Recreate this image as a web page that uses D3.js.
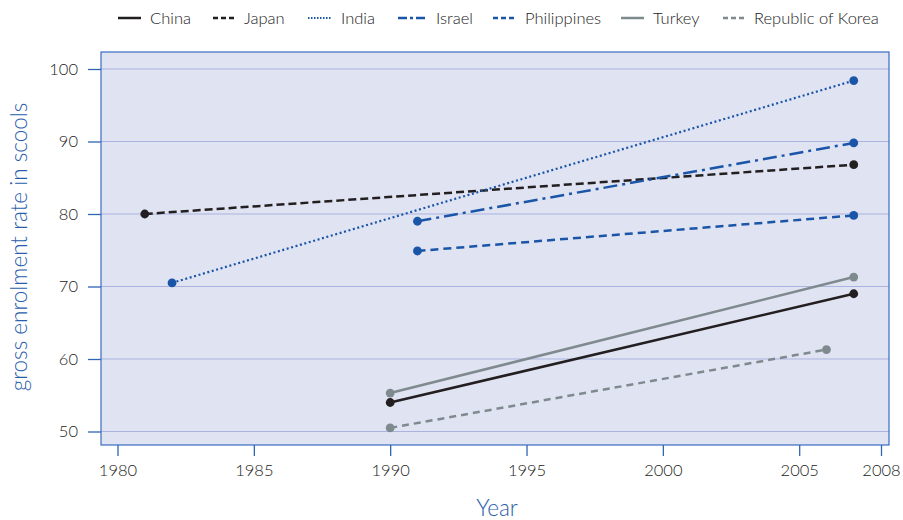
<!DOCTYPE html>
<html><head><meta charset="utf-8">
<script src="https://cdn.jsdelivr.net/npm/d3@7"></script>
<style>body{margin:0;background:#fff;} svg{display:block;}</style>
</head><body>
<svg id="c" width="903" height="520"></svg>
<script>
const seriesNames = ["China","Japan","India","Israel","Philippines","Turkey","Republic of Korea"];
const startYears  = [1990, 1981, 1982, 1991, 1991, 1990, 1990];
const endYears    = [2007, 2007, 2007, 2007, 2007, 2007, 2006];
const startValues = [54.0, 80.0, 70.5, 79.0, 74.9, 55.3, 50.5];
const endValues   = [69.0, 86.8, 98.4, 89.8, 79.8, 71.3, 61.3];
const xTicks = [1980,1985,1990,1995,2000,2005,2008];
const yTicks = [50,60,70,80,90,100];

const colors = ["#231f20","#231f20","#1a55a8","#1a55a8","#1a55a8","#7f8a8e","#7f8a8e"];
const dashes = ["none","8,4","2,2.6","14,5,3,5","8,5","none","7,5"];
const widths = [2.5,2.5,2.2,2.5,2.5,2.5,2.5];

const svg = d3.select("#c");
const font = "Lato, 'Open Sans', sans-serif";
const pl=101, pr=889, pt=52, pb=445;
const x = d3.scaleLinear().domain([1980,2008]).range([117.5,881]);
const y = d3.scaleLinear().domain([50,100]).range([431.5,69]);

svg.append("rect").attr("x",pl).attr("y",pt).attr("width",pr-pl).attr("height",pb-pt)
  .attr("fill","#e0e3f2");
// grid
svg.append("g").selectAll("line").data(yTicks).join("line")
  .attr("x1",pl).attr("x2",pr).attr("y1",d=>y(d)).attr("y2",d=>y(d))
  .attr("stroke","#a9b3de").attr("stroke-width",1);
svg.append("rect").attr("x",pl).attr("y",pt).attr("width",pr-pl).attr("height",pb-pt)
  .attr("fill","none").attr("stroke","#3a6cc0").attr("stroke-width",1.2);

// y axis
const ya = svg.append("g").attr("transform",`translate(${pl},0)`)
  .call(d3.axisLeft(y).tickValues(yTicks).tickSize(13).tickPadding(10).tickFormat(d3.format("d")));
ya.select(".domain").remove();
ya.selectAll(".tick line").attr("stroke","#2f65b5").attr("stroke-width",1.3);
ya.selectAll(".tick text").attr("fill","#222").style("font-family",font).style("font-size","16.5px").style("font-weight",300);

// x axis
const xa = svg.append("g").attr("transform",`translate(0,${pb})`)
  .call(d3.axisBottom(x).tickValues(xTicks).tickSize(11).tickPadding(8).tickFormat(d3.format("d")));
xa.select(".domain").remove();
xa.selectAll(".tick line").attr("stroke","#2f65b5").attr("stroke-width",1.3);
xa.selectAll(".tick text").attr("fill","#222").style("font-family",font).style("font-size","16.5px").style("font-weight",300);

// axis titles
svg.append("text").attr("x",497).attr("y",516).attr("text-anchor","middle")
  .attr("fill","#2a5cab").style("font-family",font).style("font-size","22.5px").style("font-weight",300).text("Year");
svg.append("text").attr("transform","translate(27,247) rotate(-90)").attr("text-anchor","middle")
  .attr("fill","#2a5cab").style("font-family",font).style("font-size","22.5px").style("font-weight",300)
  .text("gross enrolment rate in scools");

// series
const data = seriesNames.map((n,i)=>({name:n,i,pts:[[startYears[i],startValues[i]],[endYears[i],endValues[i]]]}));
const line = d3.line().x(d=>x(d[0])).y(d=>y(d[1]));
const g = svg.append("g");
data.forEach(s=>{
  g.append("path").datum(s.pts).attr("d",line).attr("fill","none")
    .attr("stroke",colors[s.i]).attr("stroke-width",widths[s.i])
    .attr("stroke-dasharray",dashes[s.i]);
  g.selectAll(null).data(s.pts).join("circle").attr("cx",d=>x(d[0])).attr("cy",d=>y(d[1]))
    .attr("r",4.4).attr("fill",colors[s.i]);
});

// legend
const legX = [118,213,308,398,493,621,723];
const legW = [23,22,24,29,23,23,22];
const leg = svg.append("g");
seriesNames.forEach((n,i)=>{
  leg.append("line").attr("x1",legX[i]).attr("x2",legX[i]+legW[i]).attr("y1",18).attr("y2",18)
    .attr("stroke",colors[i]).attr("stroke-width",widths[i])
    .attr("stroke-dasharray", i===2 ? "1.5,1.5" : (i===3 ? "9,3,3,3" : (dashes[i]==="none"?"none":"5,3")));
  leg.append("text").attr("x",legX[i]+legW[i]+9).attr("y",24).attr("fill","#222")
    .style("font-family",font).style("font-size","16.5px").style("font-weight",300).text(n);
});
</script>
</body></html>
